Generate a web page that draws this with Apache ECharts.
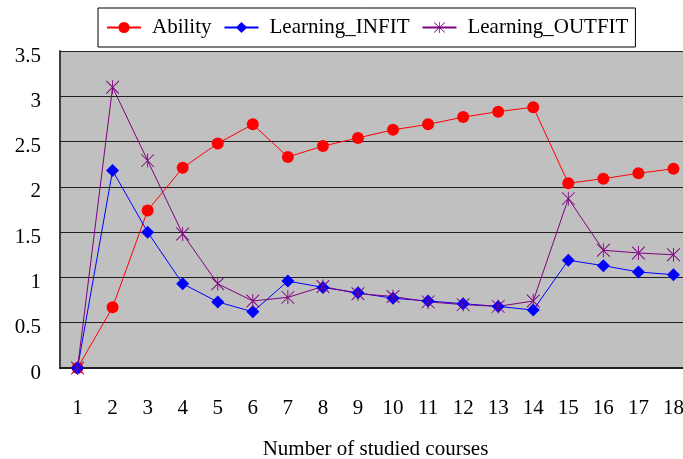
<!DOCTYPE html>
<html>
<head>
<meta charset="utf-8">
<script src="https://cdn.jsdelivr.net/npm/echarts@6/dist/echarts.min.js"></script>
<style>
  html, body { margin: 0; padding: 0; background: #fff; }
  #chart { width: 683px; height: 459px; }
</style>
</head>
<body>
<div id="chart"></div>
<script>
// Number of studied courses (x categories)
const courses = ['1','2','3','4','5','6','7','8','9','10','11','12','13','14','15','16','17','18'];

// Ability estimate after each course
const ability = [0, 0.67, 1.74, 2.21, 2.48, 2.69, 2.33, 2.45, 2.54, 2.63, 2.69, 2.77, 2.83, 2.88, 2.04, 2.09, 2.15, 2.20];

// Infit mean-square
const learningInfit = [0, 2.18, 1.50, 0.93, 0.73, 0.62, 0.96, 0.89, 0.83, 0.77, 0.74, 0.71, 0.68, 0.64, 1.19, 1.13, 1.06, 1.03];

// Outfit mean-square
const learningOutfit = [0, 3.10, 2.29, 1.48, 0.93, 0.74, 0.78, 0.90, 0.82, 0.79, 0.73, 0.70, 0.68, 0.74, 1.87, 1.30, 1.27, 1.25];

// Asterisk marker: a vertical bar and two diagonal bars
const asterisk = 'path://M-0.7,-11 L0.7,-11 L0.7,11 L-0.7,11 Z ' +
  'M-9.5,-10.5 L10.5,9.5 L9.5,10.5 L-10.5,-9.5 Z ' +
  'M-9.5,10.5 L10.5,-9.5 L9.5,-10.5 L-10.5,9.5 Z';

const serif = '"Liberation Serif", "DejaVu Serif", serif';

const chart = echarts.init(document.getElementById('chart'), null, { renderer: 'canvas' });

chart.setOption({
  animation: false,
  backgroundColor: '#ffffff',
  textStyle: { fontFamily: serif },
  legend: {
    left: 98,
    top: 8,
    itemWidth: 34,
    itemHeight: 14,
    itemGap: 12,
    padding: [9, 7, 9, 8],
    borderColor: '#000',
    borderWidth: 1,
    backgroundColor: '#fff',
    textStyle: { fontFamily: serif, fontSize: 21, color: '#000', padding: [3, 0, 0, 6] },
    data: ['Ability', 'Learning_INFIT', 'Learning_OUTFIT']
  },
  grid: {
    left: 60,
    top: 51,
    width: 631,
    height: 317,
    outerBoundsMode: 'none',
    containLabel: false,
    show: true,
    backgroundColor: '#c0c0c0',
    borderWidth: 0
  },
  xAxis: {
    type: 'category',
    data: courses,
    boundaryGap: true,
    name: 'Number of studied courses',
    nameLocation: 'middle',
    nameGap: 71,
    nameTextStyle: { fontFamily: serif, fontSize: 21, color: '#000', align: 'center' },
    axisLine: { lineStyle: { color: '#202020', width: 2 } },
    axisTick: { inside: true, length: 8, lineStyle: { color: '#202020', width: 1 }, alignWithLabel: false },
    axisLabel: { fontFamily: serif, fontSize: 21, color: '#000', margin: 30 }
  },
  yAxis: {
    type: 'value',
    min: 0,
    max: 3.5,
    interval: 0.5,
    axisLine: { show: true, lineStyle: { color: '#404040', width: 2 } },
    axisTick: { show: true, inside: true, length: 8, lineStyle: { color: '#202020' } },
    axisLabel: { fontFamily: serif, fontSize: 21, color: '#000', margin: 19, verticalAlign: 'top', lineHeight: 10 },
    splitLine: { show: true, lineStyle: { color: '#202020', width: 1 } }
  },
  series: [
    {
      name: 'Ability',
      type: 'line',
      data: ability,
      symbol: 'circle',
      symbolSize: 12,
      itemStyle: { color: '#ff0000' },
      lineStyle: { color: '#ff0000', width: 1 }
    },
    {
      name: 'Learning_INFIT',
      type: 'line',
      data: learningInfit,
      symbol: 'diamond',
      symbolSize: 13,
      itemStyle: { color: '#0000ff' },
      lineStyle: { color: '#0000ff', width: 1 }
    },
    {
      name: 'Learning_OUTFIT',
      type: 'line',
      data: learningOutfit,
      symbol: asterisk,
      symbolSize: 14,
      symbolKeepAspect: true,
      itemStyle: { color: '#800080' },
      lineStyle: { color: '#800080', width: 1 }
    }
  ]
});
</script>
</body>
</html>
